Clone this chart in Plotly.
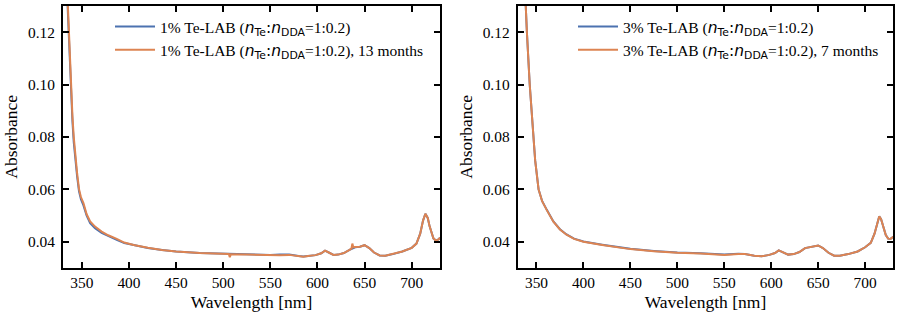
import plotly.graph_objects as go

# ---------------- data ----------------
wl_left = [330, 332, 334, 335.3, 336.4, 338.2, 340, 341.4, 343.5, 345, 347, 349, 351.7, 355, 358.8, 364,
           371, 378, 387, 395, 405, 420, 435, 450, 475, 500, 506, 507, 508, 525, 550, 560, 570, 580,
           585, 590, 598, 604, 608, 612, 617, 622, 628, 634, 636, 637, 638, 640, 645, 650, 655, 660,
           666, 672, 680, 690, 700, 705, 709, 712, 714.5, 717, 719, 721, 723, 725, 727, 729, 730]
abs_1pct = [0.172, 0.155, 0.138, 0.127, 0.117, 0.098, 0.086, 0.078, 0.0695, 0.0648, 0.0592, 0.0562, 0.0538,
            0.0500, 0.0470, 0.0451, 0.0433, 0.0420, 0.0406, 0.0394, 0.0386, 0.0375, 0.0368, 0.0362,
            0.0356, 0.0353, 0.0353, 0.0352, 0.0352, 0.0352, 0.0349, 0.0350, 0.0350, 0.0345, 0.0343,
            0.0345, 0.0348, 0.0355, 0.0365, 0.0358, 0.0349, 0.0350, 0.0356, 0.0368, 0.0372, 0.0375,
            0.0377, 0.0378, 0.0380, 0.0386, 0.0375, 0.0358, 0.0347, 0.0346, 0.0352, 0.0362, 0.0376,
            0.0392, 0.0430, 0.0480, 0.0506, 0.0490, 0.0458, 0.0430, 0.0412, 0.0406, 0.0405, 0.0410, 0.0415]
abs_1pct_13m = [0.175, 0.158, 0.141, 0.130, 0.120, 0.100, 0.088, 0.080, 0.0712, 0.0660, 0.0600, 0.0570,
                0.0547, 0.0505, 0.0477, 0.0457, 0.0438, 0.0424, 0.0410, 0.0396, 0.0387, 0.0376, 0.0368,
                0.0362, 0.0356, 0.0352, 0.0352, 0.0340, 0.0351, 0.0350, 0.0347, 0.0348, 0.0349, 0.0345,
                0.0342, 0.0345, 0.0348, 0.0355, 0.0365, 0.0358, 0.0349, 0.0350, 0.0356, 0.0368, 0.0373,
                0.0392, 0.0378, 0.0379, 0.0380, 0.0386, 0.0375, 0.0358, 0.0347, 0.0346, 0.0352, 0.0362,
                0.0376, 0.0392, 0.0430, 0.0480, 0.0506, 0.0490, 0.0458, 0.0430, 0.0412, 0.0406, 0.0405,
                0.0410, 0.0415]

wl_right = [330, 334, 336, 338.5, 339.8, 342.8, 346.5, 348.6, 352.2, 356, 361, 368, 375, 382, 390, 400,
            420, 435, 450, 475, 500, 525, 550, 565, 572, 582, 590, 598, 604, 608, 613, 618, 624, 630,
            636, 642, 647, 650, 655, 661, 667, 673, 682, 692, 700, 706, 710, 713, 715, 717, 719.5, 722,
            724.5, 727, 730]
abs_3pct = [0.200, 0.165, 0.148, 0.130, 0.120, 0.100, 0.080, 0.071, 0.060, 0.0555, 0.0521, 0.0477, 0.0447,
            0.0427, 0.0411, 0.0400, 0.0388, 0.0379, 0.0372, 0.0364, 0.0358, 0.0355, 0.0350, 0.0353,
            0.0352, 0.0346, 0.0344, 0.0349, 0.0356, 0.0366, 0.0357, 0.0350, 0.0352, 0.0360, 0.0375,
            0.0380, 0.0382, 0.0385, 0.0375, 0.0357, 0.0346, 0.0346, 0.0352, 0.0362, 0.0378, 0.0395,
            0.0430, 0.0475, 0.0496, 0.0485, 0.0455, 0.0425, 0.0411, 0.0410, 0.0418]
abs_3pct_7m = [0.200, 0.165, 0.148, 0.130, 0.120, 0.100, 0.080, 0.071, 0.060, 0.0554, 0.0520, 0.0476,
               0.0446, 0.0426, 0.0410, 0.0399, 0.0387, 0.0378, 0.0371, 0.0363, 0.0357, 0.0354, 0.0349,
               0.0352, 0.0352, 0.0346, 0.0344, 0.0349, 0.0356, 0.0366, 0.0357, 0.0350, 0.0352, 0.0360,
               0.0375, 0.0380, 0.0382, 0.0385, 0.0375, 0.0357, 0.0346, 0.0346, 0.0352, 0.0362, 0.0378,
               0.0395, 0.0430, 0.0475, 0.0496, 0.0485, 0.0455, 0.0425, 0.0411, 0.0410, 0.0418]

x_ticks = [350, 400, 450, 500, 550, 600, 650, 700]
y_ticks = [0.04, 0.06, 0.08, 0.10, 0.12]
y_ticklabels = ["0.04", "0.06", "0.08", "0.10", "0.12"]

ratio = ("(<span style=\"font-family:'DejaVu Sans'\"><i>n</i><sub>Te</sub>:"
         "<i>n</i><sub>DDA</sub></span>=1:0.2)")
names_left = ["1% Te-LAB " + ratio, "1% Te-LAB " + ratio + ", 13 months"]
names_right = ["3% Te-LAB " + ratio, "3% Te-LAB " + ratio + ", 7 months"]

BLUE = "#4C72B0"
ORANGE = "#DD8452"
SERIF = "Liberation Serif"

fig = go.Figure()
fig.add_trace(go.Scatter(x=wl_left, y=abs_1pct, mode="lines", name=names_left[0],
                         line=dict(color=BLUE, width=2), xaxis="x", yaxis="y", legend="legend"))
fig.add_trace(go.Scatter(x=wl_left, y=abs_1pct_13m, mode="lines", name=names_left[1],
                         line=dict(color=ORANGE, width=2), xaxis="x", yaxis="y", legend="legend"))
fig.add_trace(go.Scatter(x=wl_right, y=abs_3pct, mode="lines", name=names_right[0],
                         line=dict(color=BLUE, width=2), xaxis="x2", yaxis="y2", legend="legend2"))
fig.add_trace(go.Scatter(x=wl_right, y=abs_3pct_7m, mode="lines", name=names_right[1],
                         line=dict(color=ORANGE, width=2), xaxis="x2", yaxis="y2", legend="legend2"))

W, H = 901, 319
ydom = [1 - 267.7 / H, 1 - 6 / H]

def xax(dom, anchor):
    return dict(domain=dom, anchor=anchor, range=[330, 730], tickvals=x_ticks,
                ticks="inside", ticklen=6, tickwidth=1.5, tickcolor="black",
                showline=True, linecolor="black", linewidth=2, mirror="allticks",
                showgrid=False, zeroline=False, ticklabelstandoff=0,
                tickfont=dict(family=SERIF, size=15.4, color="black"),
                title=dict(text="Wavelength [nm]", font=dict(family=SERIF, size=17.5, color="black"),
                           standoff=6))

def yax(anchor):
    return dict(domain=ydom, anchor=anchor, range=[0.03, 0.13], tickvals=y_ticks,
                ticktext=y_ticklabels,
                ticks="inside", ticklen=6, tickwidth=1.5, tickcolor="black",
                showline=True, linecolor="black", linewidth=2, mirror="allticks",
                showgrid=False, zeroline=False, ticklabelstandoff=3,
                tickfont=dict(family=SERIF, size=15.4, color="black"),
                title=dict(text="Absorbance", font=dict(family=SERIF, size=17.5, color="black"),
                           standoff=6))

leg_common = dict(font=dict(family=SERIF, size=15.5, color="black"), bgcolor="rgba(0,0,0,0)",
                  borderwidth=0, xanchor="left", yanchor="top", tracegroupgap=0, itemwidth=40)

fig.update_layout(
    width=W, height=H, margin=dict(l=0, r=0, t=0, b=0),
    paper_bgcolor="white", plot_bgcolor="white",
    xaxis=xax([63 / W, 440 / W], "y"),
    yaxis=yax("x"),
    xaxis2=xax([517.7 / W, 893.3 / W], "y2"),
    yaxis2=yax("x2"),
    legend=dict(x=110 / W, y=1 - 10 / H, **leg_common),
    legend2=dict(x=573 / W, y=1 - 10 / H, **leg_common),
    showlegend=True,
)

fig.write_html("out.html")
